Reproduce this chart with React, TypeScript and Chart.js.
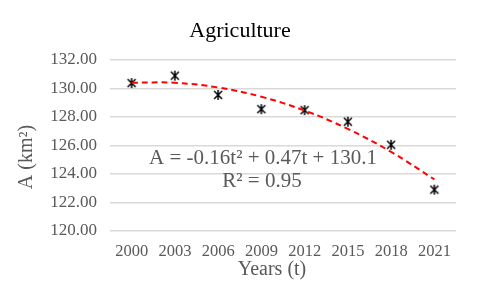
import { useEffect, useRef } from "react";
import { Chart, registerables } from "chart.js";

Chart.register(...registerables);

const years = ["2000", "2003", "2006", "2009", "2012", "2015", "2018", "2021"];
const area = [130.38, 130.9, 129.55, 128.55, 128.48, 127.67, 126.05, 122.9];
const trend = [130.41, 130.4, 130.07, 129.42, 128.45, 127.16, 125.55, 123.62];
const yMin = 120;
const yMax = 132;
const yStep = 2;
const chartTitle = "Agriculture";
const xTitle = "Years (t)";
const yTitle = "A (km\u00B2)";
const equation = "A = -0.16t\u00B2 + 0.47t + 130.1";
const rSquared = "R\u00B2 = 0.95";

const SERIF = '"Liberation Serif", "Times New Roman", serif';
const GRAY = "#595959";

function makeMarker(): HTMLCanvasElement {
  const c = document.createElement("canvas");
  c.width = 12;
  c.height = 12;
  const g = c.getContext("2d")!;
  g.strokeStyle = "#000";
  g.lineWidth = 1.5;
  g.lineCap = "butt";
  g.beginPath();
  g.moveTo(2, 2);
  g.lineTo(10, 10);
  g.moveTo(10, 2);
  g.lineTo(2, 10);
  g.moveTo(6, 1);
  g.lineTo(6, 11);
  g.stroke();
  return c;
}

const textPlugin = {
  id: "texts",
  afterDatasetsDraw(chart: any) {
    const ctx = chart.ctx;
    ctx.save();
    ctx.textAlign = "center";
    ctx.textBaseline = "middle";
    ctx.fillStyle = "#000";
    ctx.font = `22px ${SERIF}`;
    ctx.fillText(chartTitle, 240, 31);
    ctx.fillStyle = GRAY;
    ctx.font = `20px ${SERIF}`;
    ctx.fillText(xTitle, 272, 270);
    ctx.save();
    ctx.translate(27, 157);
    ctx.rotate(-Math.PI / 2);
    ctx.fillText(yTitle, 0, 0);
    ctx.restore();
    ctx.font = `21px ${SERIF}`;
    ctx.fillText(equation, 263, 158.5);
    ctx.fillText(rSquared, 262, 181);
    ctx.restore();
  },
};

export default function App() {
  const ref = useRef<HTMLCanvasElement>(null);
  useEffect(() => {
    const marker = makeMarker();
    const chart = new Chart(ref.current!, {
      type: "line",
      data: {
        labels: years,
        datasets: [
          {
            data: trend,
            borderColor: "#ff0000",
            borderWidth: 2,
            borderDash: [6, 4],
            pointRadius: 0,
            tension: 0.4,
            fill: false,
          },
          {
            data: area,
            showLine: false,
            pointStyle: marker as any,
            pointRadius: 6,
            borderColor: "#000",
            backgroundColor: "#000",
          },
        ],
      },
      options: {
        animation: false,
        responsive: true,
        maintainAspectRatio: false,
        layout: { padding: { top: 60, right: 24, left: 0, bottom: 0 } },
        plugins: { legend: { display: false }, title: { display: false }, tooltip: { enabled: false } },
        scales: {
          x: {
            offset: true,
            grid: { display: false, drawTicks: false },
            border: { display: false },
            ticks: { color: GRAY, font: { family: SERIF, size: 16.5 }, padding: 11 },
            afterFit: (s: any) => {
              s.height = 66;
            },
          },
          y: {
            min: yMin,
            max: yMax,
            grid: { color: "#d9d9d9", lineWidth: 1.4, drawTicks: false },
            border: { display: false },
            ticks: {
              stepSize: yStep,
              color: GRAY,
              font: { family: SERIF, size: 17 },
              padding: 13,
              callback: (v: any) => Number(v).toFixed(2),
            },
            afterFit: (s: any) => {
              s.width = 110;
            },
          },
        },
      },
      plugins: [textPlugin],
    });
    return () => chart.destroy();
  }, []);
  return (
    <div style={{ position: "absolute", left: 0, top: 0, width: 480, height: 297, background: "#fff" }}>
      <canvas ref={ref} />
    </div>
  );
}
